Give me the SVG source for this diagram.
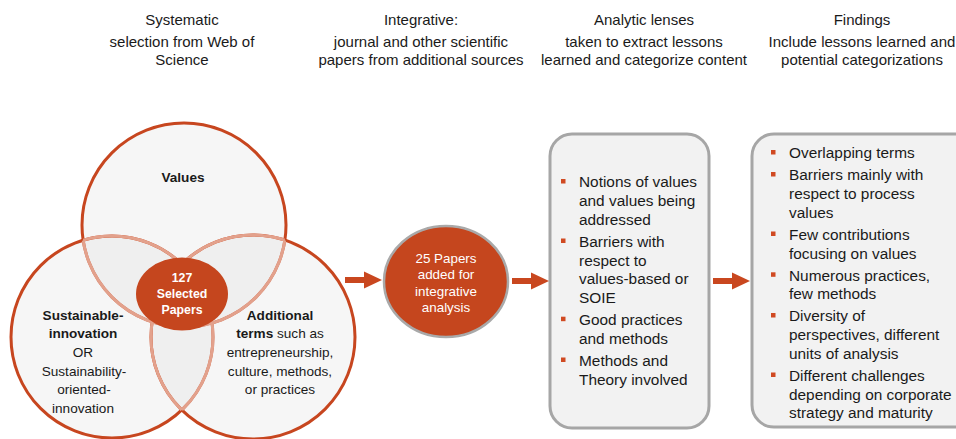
<svg xmlns="http://www.w3.org/2000/svg" xmlns:xlink="http://www.w3.org/1999/xlink" width="956" height="439" viewBox="0 0 956 439">
  <style>
    text { font-family: "Liberation Sans", Arial, sans-serif; fill: #1a1a1a; }
    .head { font-size: 15px; text-anchor: middle; }
    .venn { font-size: 13.6px; text-anchor: middle; }
    .b { font-weight: bold; }
    .inner { font-size: 12.3px; font-weight: bold; fill: #ffffff; text-anchor: middle; }
    .ell2 { font-size: 13.4px; fill: #ffffff; text-anchor: middle; }
    .item { font-size: 15.4px; }
    .set { fill: #dcdcdc; fill-opacity: 0.25; stroke: #c7461f; stroke-width: 3; }
    .set-in { fill: none; stroke: #e3a18c; stroke-width: 3; }
    .box { fill: #f2f2f2; stroke: #a6a6a6; stroke-width: 3; }
    .dot { fill: #d04a22; }
    .arrow { fill: #c9471f; }
  </style>
  <defs>
    <!-- block arrow, tip at the origin, pointing right -->
    <path id="blockArrow" d="M-37,-3 H-18 V-8.5 L0,0 L-18,8.5 V3 H-37 Z"/>
    <!-- regions used to lighten the parts of each outline that lie inside another set -->
    <clipPath id="inTopOthers">
      <circle cx="112" cy="337" r="101"/>
      <circle cx="253" cy="337" r="102"/>
    </clipPath>
    <clipPath id="inLeftOthers">
      <circle cx="184" cy="225" r="102"/>
      <circle cx="253" cy="337" r="102"/>
    </clipPath>
    <clipPath id="inRightOthers">
      <circle cx="184" cy="225" r="102"/>
      <circle cx="112" cy="337" r="101"/>
    </clipPath>
  </defs>

  <rect width="956" height="439" fill="#ffffff"/>

  <!-- column headings -->
  <g id="heading-systematic">
    <text class="head" x="182" y="25">Systematic</text>
    <text class="head" x="182" y="47">selection from Web of</text>
    <text class="head" x="182" y="65">Science</text>
  </g>
  <g id="heading-integrative">
    <text class="head" x="421" y="25">Integrative:</text>
    <text class="head" x="421" y="47">journal and other scientific</text>
    <text class="head" x="421" y="65">papers from additional sources</text>
  </g>
  <g id="heading-lenses">
    <text class="head" x="644" y="25">Analytic lenses</text>
    <text class="head" x="644" y="47">taken to extract lessons</text>
    <text class="head" x="644" y="65">learned and categorize content</text>
  </g>
  <g id="heading-findings">
    <text class="head" x="862" y="25">Findings</text>
    <text class="head" x="862" y="47">Include lessons learned and</text>
    <text class="head" x="862" y="65">potential categorizations</text>
  </g>

  <!-- three-set Venn diagram -->
  <g id="venn">
    <g id="set-values">
      <circle class="set" cx="184" cy="225" r="102"/>
    </g>
    <g id="set-sustainable">
      <circle class="set" cx="112" cy="337" r="101"/>
    </g>
    <g id="set-additional">
      <circle class="set" cx="253" cy="337" r="102"/>
    </g>
    <circle class="set-in" cx="184" cy="225" r="102" clip-path="url(#inTopOthers)"/>
    <circle class="set-in" cx="112" cy="337" r="101" clip-path="url(#inLeftOthers)"/>
    <circle class="set-in" cx="253" cy="337" r="102" clip-path="url(#inRightOthers)"/>

    <text class="venn b" x="183" y="182">Values</text>

    <text class="venn" x="83" y="320"><tspan class="b">Sustainable-</tspan></text>
    <text class="venn b" x="83" y="338">innovation</text>
    <text class="venn" x="83" y="357">OR</text>
    <text class="venn" x="84" y="376">Sustainability-</text>
    <text class="venn" x="84" y="394">oriented-</text>
    <text class="venn" x="83" y="413">innovation</text>

    <text class="venn b" x="280" y="320">Additional</text>
    <text class="venn" x="280" y="338"><tspan class="b">terms</tspan> such as</text>
    <text class="venn" x="280" y="357">entrepreneurship,</text>
    <text class="venn" x="280" y="376">culture, methods,</text>
    <text class="venn" x="280" y="394">or practices</text>
  </g>

  <g id="selected-papers">
    <ellipse cx="182" cy="294" rx="46" ry="36.5" fill="#c5461e"/>
    <text class="inner" x="182" y="281.5">127</text>
    <text class="inner" x="182" y="297.5">Selected</text>
    <text class="inner" x="182" y="314">Papers</text>
  </g>

  <g id="added-papers">
    <ellipse cx="446" cy="281.5" rx="62" ry="55.5" fill="#c5461e" stroke="#a9a9a9" stroke-width="2.5"/>
    <text class="ell2" x="446" y="262.5">25 Papers</text>
    <text class="ell2" x="446" y="279">added for</text>
    <text class="ell2" x="446" y="295.5">integrative</text>
    <text class="ell2" x="446" y="312">analysis</text>
  </g>

  <g id="analytic-lenses">
    <rect class="box" x="550" y="134" width="159" height="294" rx="22" ry="22"/>
    <rect class="dot" x="561" y="179" width="4.5" height="4.5"/>
    <text class="item" x="579" y="187.4">Notions of values</text>
    <text class="item" x="579" y="206.1">and values being</text>
    <text class="item" x="579" y="224.8">addressed</text>
    <rect class="dot" x="561" y="238.5" width="4.5" height="4.5"/>
    <text class="item" x="579" y="246.9">Barriers with</text>
    <text class="item" x="579" y="265.6">respect to</text>
    <text class="item" x="579" y="284.3">values-based or</text>
    <text class="item" x="579" y="303">SOIE</text>
    <rect class="dot" x="561" y="316.7" width="4.5" height="4.5"/>
    <text class="item" x="579" y="325.1">Good practices</text>
    <text class="item" x="579" y="343.8">and methods</text>
    <rect class="dot" x="561" y="357.5" width="4.5" height="4.5"/>
    <text class="item" x="579" y="365.9">Methods and</text>
    <text class="item" x="579" y="384.6">Theory involved</text>
  </g>

  <g id="findings">
    <rect class="box" x="752" y="134" width="230" height="293" rx="22" ry="22"/>
    <rect class="dot" x="771" y="150" width="4.5" height="4.5"/>
    <text class="item" x="789" y="158.4">Overlapping terms</text>
    <rect class="dot" x="771" y="172" width="4.5" height="4.5"/>
    <text class="item" x="789" y="180.4">Barriers mainly with</text>
    <text class="item" x="789" y="199.1">respect to process</text>
    <text class="item" x="789" y="217.8">values</text>
    <rect class="dot" x="771" y="231.5" width="4.5" height="4.5"/>
    <text class="item" x="789" y="239.9">Few contributions</text>
    <text class="item" x="789" y="258.6">focusing on values</text>
    <rect class="dot" x="771" y="272.3" width="4.5" height="4.5"/>
    <text class="item" x="789" y="280.7">Numerous practices,</text>
    <text class="item" x="789" y="299.4">few methods</text>
    <rect class="dot" x="771" y="313" width="4.5" height="4.5"/>
    <text class="item" x="789" y="321.4">Diversity of</text>
    <text class="item" x="789" y="340.1">perspectives, different</text>
    <text class="item" x="789" y="358.8">units of analysis</text>
    <rect class="dot" x="771" y="372.5" width="4.5" height="4.5"/>
    <text class="item" x="789" y="380.9">Different challenges</text>
    <text class="item" x="789" y="399.6">depending on corporate</text>
    <text class="item" x="789" y="418.3">strategy and maturity</text>
  </g>

  <!-- connectors -->
  <g id="connectors">
    <use xlink:href="#blockArrow" class="arrow" transform="translate(382,280)"/>
    <use xlink:href="#blockArrow" class="arrow" transform="translate(549,281)"/>
    <use xlink:href="#blockArrow" class="arrow" transform="translate(750,281)"/>
  </g>
</svg>
